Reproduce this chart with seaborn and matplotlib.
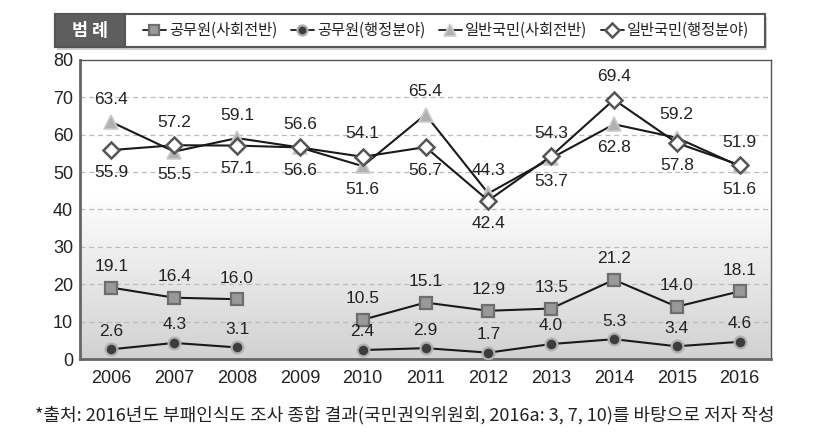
import numpy as np
import pandas as pd
import matplotlib
matplotlib.use("Agg")
import matplotlib.pyplot as plt
import seaborn as sns
from matplotlib.lines import Line2D
from matplotlib.patches import Rectangle

years = ["2006", "2007", "2008", "2009", "2010", "2011", "2012", "2013", "2014", "2015", "2016"]
series_names = ["공무원(사회전반)", "공무원(행정분야)", "일반국민(사회전반)", "일반국민(행정분야)"]
gov_social = [19.1, 16.4, 16.0, np.nan, 10.5, 15.1, 12.9, 13.5, 21.2, 14.0, 18.1]
gov_admin = [2.6, 4.3, 3.1, np.nan, 2.4, 2.9, 1.7, 4.0, 5.3, 3.4, 4.6]
pub_social = [63.4, 55.5, 59.1, 56.6, 51.6, 65.4, 44.3, 53.7, 62.8, 59.2, 51.6]
pub_admin = [55.9, 57.2, 57.1, 56.6, 54.1, 56.7, 42.4, 54.3, 69.4, 57.8, 51.9]
yticks = [0, 10, 20, 30, 40, 50, 60, 70, 80]
legend_title = "범 례"
footnote = "*출처: 2016년도 부패인식도 조사 종합 결과(국민권익위원회, 2016a: 3, 7, 10)를 바탕으로 저자 작성"

sns.set_style("white")
plt.rcParams['font.family'] = ['Liberation Sans', 'Noto Sans CJK KR', 'DejaVu Sans']
KFONT = ['Noto Sans CJK KR', 'DejaVu Sans']

fig = plt.figure(figsize=(8.4, 4.4), dpi=100)
ax = fig.add_axes([80/840, 1-359/440, (771-80)/840, (359-60)/440])

x = np.arange(len(years))
df = pd.DataFrame({"x": x, "gs": gov_social, "ga": gov_admin, "ps": pub_social, "pa": pub_admin})

# background gradient
grad = np.linspace(0, 1, 256)
vals = np.clip(grad / 0.55, 0, 1)
col = 0.82 + 0.18 * vals
img = np.dstack([col, col, col]).reshape(256, 1, 3)
ax.imshow(img, extent=[-0.5, 10.5, 0, 80], origin='lower', aspect='auto', zorder=0)

for yv in yticks[1:-1]:
    ax.axhline(yv, color='#bbbbbb', lw=0.9, ls=(0, (4, 3)), zorder=1)

styles = {
    "gs": dict(marker='s', markersize=8.5, markerfacecolor='#999999', markeredgecolor='#6e6e6e', markeredgewidth=1.6),
    "ga": dict(marker='o', markersize=8.5, markerfacecolor='#3c3c3c', markeredgecolor='#b0b0b0', markeredgewidth=1.6),
    "ps": dict(marker='^', markersize=10, markerfacecolor='#b0b0b0', markeredgecolor='#cccccc', markeredgewidth=1.2),
    "pa": dict(marker='D', markersize=8.5, markerfacecolor='white', markeredgecolor='#555555', markeredgewidth=1.8),
}
zorders = {"gs": 3, "ga": 3, "ps": 3, "pa": 4}

for key in ["gs", "ga", "ps", "pa"]:
    sub = df[["x", key]].copy()
    seg = sub[key].isna().cumsum()
    for s_id, part in sub.groupby(seg):
        part = part.dropna()
        if len(part) == 0:
            continue
        sns.lineplot(data=part, x="x", y=key, ax=ax, color='#1a1a1a', lw=1.5,
                     zorder=zorders[key], legend=False, **styles[key])

def lab(xi, v, up, off=16):
    ax.annotate(f"{v:.1f}", (xi, v), xytext=(0, off if up else -off), textcoords='offset points',
                ha='center', va='center', fontsize=12.5, color='#222222', zorder=6)

for i in range(len(years)):
    if not np.isnan(gov_social[i]):
        lab(i, gov_social[i], True, 15)
    if not np.isnan(gov_admin[i]):
        lab(i, gov_admin[i], True, 13)
    tri, dia = pub_social[i], pub_admin[i]
    lab(i, tri, tri >= dia, 16.5)
    lab(i, dia, dia > tri, 16.5)

ax.set_xlim(-0.5, 10.5)
ax.set_ylim(0, 80)
ax.set_xticks(x)
ax.set_xticklabels(years, fontsize=13, color='#222222')
ax.set_yticks(yticks)
ax.set_yticklabels([str(v) for v in yticks], fontsize=13, color='#222222')
ax.tick_params(axis='x', length=0, pad=8)
ax.tick_params(axis='y', length=0, pad=5)
ax.set_xlabel("")
ax.set_ylabel("")
ax.set_xticks(np.arange(0.5, 10, 1), minor=True)
ax.tick_params(axis='x', which='minor', direction='in', length=5, width=1.2, color='#333333')
for side in ['top', 'right']:
    ax.spines[side].set_color('#555555')
    ax.spines[side].set_linewidth(1.0)
for side in ['left', 'bottom']:
    ax.spines[side].set_color('#666666')
    ax.spines[side].set_linewidth(2.0)

# legend box
bx0, by0, bw, bh = 55/840, 1-47/440, (765-55)/840, 33/440
fig.patches.append(Rectangle((bx0+2/840, by0-3/440), bw, bh, transform=fig.transFigure,
                             facecolor='#d0d0d0', edgecolor='none', zorder=0))
fig.patches.append(Rectangle((bx0, by0), bw, bh, transform=fig.transFigure,
                             facecolor='white', edgecolor='#555555', lw=1.5, zorder=1))
fig.patches.append(Rectangle((bx0, by0), 70/840, bh, transform=fig.transFigure,
                             facecolor='#5e5e5e', edgecolor='#555555', lw=1.5, zorder=2))
fig.text((55+35)/840, by0 + bh/2, legend_title, ha='center', va='center', color='white',
         fontsize=12.5, fontweight='bold', family=KFONT, zorder=3)

handles = []
for key in ["gs", "ga", "ps", "pa"]:
    st = dict(styles[key])
    st['markersize'] = st['markersize'] * 0.85
    handles.append(Line2D([0], [0], color='#1a1a1a', lw=1.3, **st))
leg = fig.legend(handles, series_names, ncol=4, loc='center', frameon=False,
                 bbox_to_anchor=((127+765)/2/840, by0 + bh/2), prop={'family': KFONT, 'size': 11},
                 handlelength=1.5, handletextpad=0.2, columnspacing=0.9, borderpad=0)
for t in leg.get_texts():
    t.set_color('#222222')

fig.text(35/840, 1-415/440, footnote, ha='left', va='center', fontsize=13, color='#222222', family=KFONT)

fig.savefig("out.png", dpi=100, facecolor='white')
